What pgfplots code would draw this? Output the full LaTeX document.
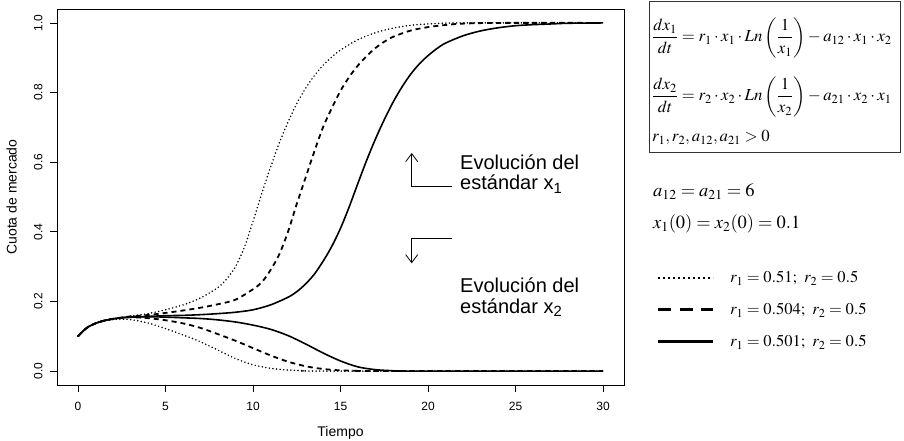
\documentclass[border=0pt]{standalone}
\usepackage{mathptmx}
\usepackage[no-math]{fontspec}
\setmainfont{Liberation Sans}
\usepackage{pgfplots}
\pgfplotsset{compat=1.18}
\usetikzlibrary{arrows.meta}

\pgfplotsset{
  punt/.style={black, line width=1.7pt, line cap=round, dash pattern=on 0pt off 3.6pt},
  guion/.style={black, line width=1.8pt, dash pattern=on 5pt off 4pt},
  linea/.style={black, line width=1.6pt},
}

\begin{document}
\begin{tikzpicture}[x=1pt,y=1pt]
\path[use as bounding box] (0,0) rectangle (904,441);

\begin{axis}[
    at={(57pt,56pt)}, anchor=south west,
    scale only axis,
    width=567pt, height=376pt,
    xmin=-1.2, xmax=31.2,
    ymin=-0.04, ymax=1.04,
    xtick={0,5,10,15,20,25,30},
    ytick={0,0.2,0.4,0.6,0.8,1.0},
    yticklabel style={rotate=90, anchor=south, /pgf/number format/fixed, /pgf/number format/fixed zerofill, /pgf/number format/precision=1},
    /pgf/number format/assume math mode=true,
    tick label style={font=\fontsize{12}{14}\selectfont},
    label style={font=\fontsize{14}{16}\selectfont},
    xticklabel shift=7pt,
    yticklabel shift=4pt,
    xlabel={Tiempo},
    ylabel={Cuota de mercado},
    xlabel style={at={(axis description cs:0.5,-0.128)}, anchor=center},
    ylabel style={at={(axis description cs:-0.08,0.5)}, anchor=center},
    tick align=outside,
    major tick length=7pt,
    xtick pos=bottom, ytick pos=left,
    tick style={black, line width=0.8pt},
    axis line style={black, line width=0.9pt},
]

% x1, r1 = 0.51
\addplot[punt, smooth] coordinates {
  (0,0.100) (0.5,0.124) (1,0.137) (1.5,0.145) (2,0.150) (2.5,0.154) (3,0.158)
  (4,0.165) (5,0.176) (6,0.190) (7,0.210) (8,0.240) (8.5,0.265) (9,0.300)
  (9.5,0.355) (10,0.430) (10.5,0.510) (11,0.585) (11.5,0.655) (12,0.715)
  (12.5,0.768) (13,0.812) (13.5,0.848) (14,0.878) (14.5,0.902) (15,0.922)
  (16,0.952) (17,0.972) (18,0.985) (19,0.993) (20,0.997) (22,1.000) (30,1.000)
};
% x2, r1 = 0.51
\addplot[punt, smooth] coordinates {
  (0,0.100) (0.5,0.124) (1,0.137) (1.5,0.144) (2,0.148) (2.5,0.149) (3,0.148)
  (4,0.138) (5,0.122) (6,0.104) (7,0.084) (8,0.060) (9,0.036) (10,0.018)
  (11,0.008) (12,0.003) (13,0.001) (14,0.000) (30,0.000)
};

% x1, r1 = 0.504
\addplot[guion, smooth] coordinates {
  (0,0.100) (0.5,0.124) (1,0.137) (1.5,0.145) (2,0.150) (2.5,0.154) (3,0.157)
  (4,0.161) (5,0.167) (6,0.174) (7,0.182) (8,0.192) (9,0.205) (10,0.235)
  (10.5,0.255) (11,0.290) (11.5,0.335) (12,0.400) (12.5,0.480) (13,0.555)
  (13.5,0.630) (14,0.700) (14.5,0.755) (15,0.805) (15.5,0.845) (16,0.878)
  (16.5,0.905) (17,0.928) (17.5,0.946) (18,0.960) (19,0.978) (20,0.988)
  (21,0.994) (22,0.998) (24,1.000) (30,1.000)
};
% x2, r1 = 0.504
\addplot[guion, smooth] coordinates {
  (0,0.100) (0.5,0.124) (1,0.137) (1.5,0.145) (2,0.150) (2.5,0.153) (3,0.155)
  (4,0.152) (5,0.146) (6,0.137) (7,0.124) (8,0.106) (9,0.087) (10,0.066)
  (11,0.045) (12,0.027) (13,0.014) (14,0.006) (15,0.002) (16,0.001)
  (17,0.000) (30,0.000)
};

% x1, r1 = 0.501
\addplot[linea, smooth] coordinates {
  (0,0.100) (0.5,0.124) (1,0.137) (1.5,0.145) (2,0.150) (2.5,0.153) (3,0.155)
  (4,0.157) (5,0.159) (6,0.160) (7,0.162) (8,0.165) (9,0.169) (10,0.176)
  (11,0.190) (12,0.212) (12.5,0.228) (13,0.250) (13.5,0.278) (14,0.315)
  (14.5,0.358) (15,0.410) (15.5,0.472) (16,0.540) (16.5,0.606) (17,0.667)
  (17.5,0.722) (18,0.772) (18.5,0.815) (19,0.852) (19.5,0.882) (20,0.906)
  (20.5,0.926) (21,0.942) (22,0.963) (23,0.977) (24,0.986) (25,0.992)
  (26,0.995) (27,0.997) (28,0.999) (30,1.000)
};
% x2, r1 = 0.501
\addplot[linea, smooth] coordinates {
  (0,0.100) (0.5,0.124) (1,0.137) (1.5,0.145) (2,0.150) (2.5,0.153) (3,0.155)
  (4,0.156) (5,0.155) (6,0.153) (7,0.151) (8,0.147) (9,0.141) (10,0.132)
  (11,0.120) (12,0.102) (13,0.078) (14,0.052) (15,0.029) (16,0.012)
  (17,0.004) (18,0.001) (19,0.000) (30,0.000)
};

\end{axis}

% annotations inside the plot
\draw[line width=0.8pt, -{Straight Barb[length=8pt,width=12pt]}] (451.7,254.3) -- (411.7,254.3) -- (411.7,288);
\node[anchor=base west, inner sep=0pt, font=\fontsize{20}{24}\selectfont] at (460,271.7) {Evolución del};
\node[anchor=base west, inner sep=0pt, font=\fontsize{20}{24}\selectfont] at (460,251) {estándar x\textsubscript{1}};

\draw[line width=0.8pt, -{Straight Barb[length=8pt,width=12pt]}] (451.7,202.7) -- (411.7,202.7) -- (411.7,177.7);
\node[anchor=base west, inner sep=0pt, font=\fontsize{20}{24}\selectfont] at (460,148.3) {Evolución del};
\node[anchor=base west, inner sep=0pt, font=\fontsize{20}{24}\selectfont] at (460,127.7) {estándar x\textsubscript{2}};

% model box
\draw[line width=1pt, black!80] (649,288) rectangle (900,439);
\begin{scope}[every node/.style={anchor=base west, inner sep=0pt, font=\fontsize{16.8}{20}\selectfont}]
\node at (652,399) {$\displaystyle \frac{dx_1}{dt} = r_1\cdot x_1\cdot Ln\left(\frac{1}{x_1}\right) - a_{12}\cdot x_1\cdot x_2$};
\node at (652,340) {$\displaystyle \frac{dx_2}{dt} = r_2\cdot x_2\cdot Ln\left(\frac{1}{x_2}\right) - a_{21}\cdot x_2\cdot x_1$};
\node at (652,299) {$r_1, r_2, a_{12}, a_{21} > 0$};
\end{scope}

\node[anchor=base west, inner sep=0pt, font=\fontsize{18.5}{22}\selectfont] at (653,244.3) {$a_{12} = a_{21} = 6$};
\node[anchor=base west, inner sep=0pt, font=\fontsize{18.5}{22}\selectfont] at (653,212.7) {$x_1(0) = x_2(0) = 0.1$};

% key
\draw[black, line width=2pt, dash pattern=on 2pt off 3pt] (658,163) -- (713,163);
\draw[black, line width=3pt, dash pattern=on 13pt off 8.5pt] (658,131) -- (713,131);
\draw[black, line width=3pt] (658,99) -- (713,99);
\begin{scope}[every node/.style={anchor=base west, inner sep=0pt, font=\fontsize{16.5}{20}\selectfont}]
\node at (730,158) {$r_1 = 0.51;\hspace{5pt} r_2 = 0.5$};
\node at (730,126) {$r_1 = 0.504;\hspace{5pt} r_2 = 0.5$};
\node at (730,94) {$r_1 = 0.501;\hspace{5pt} r_2 = 0.5$};
\end{scope}

\end{tikzpicture}
\end{document}
